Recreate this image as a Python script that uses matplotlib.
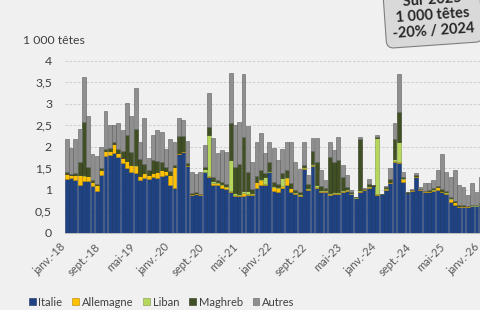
import matplotlib
matplotlib.use("Agg")
import matplotlib.pyplot as plt
import matplotlib.transforms as mtransforms
import numpy as np

# mois de janv.-18 a janv.-26, en 1 000 tetes
italie = [1.25, 1.27, 1.22, 1.10, 1.20, 1.20, 1.08, 0.97, 1.35, 1.78,
          1.80, 1.86, 1.75, 1.62, 1.50, 1.40, 1.38, 1.22, 1.27, 1.25,
          1.30, 1.28, 1.32, 1.35, 1.12, 1.05, 1.83, 1.88, 1.55, 0.88,
          0.90, 0.88, 1.40, 1.30, 1.12, 1.10, 1.05, 1.02, 0.95, 0.85,
          0.85, 0.85, 0.88, 0.88, 1.05, 1.10, 1.10, 1.40, 0.98, 0.95,
          1.05, 1.12, 0.95, 0.90, 0.86, 1.48, 1.00, 1.55, 1.05, 0.95,
          0.95, 0.88, 0.90, 0.90, 0.95, 0.98, 0.90, 0.80, 0.95, 1.00,
          1.05, 1.08, 0.88, 0.89, 1.00, 1.15, 1.65, 1.62, 1.18, 0.92,
          0.98, 1.30, 1.00, 0.95, 0.95, 0.98, 1.00, 0.95, 0.90, 0.72,
          0.65, 0.60, 0.60, 0.60, 0.62, 0.62, 0.64]
allemagne = [0.12, 0.07, 0.12, 0.25, 0.12, 0.12, 0.10, 0.13, 0.10, 0.12,
             0.10, 0.20, 0.10, 0.12, 0.17, 0.18, 0.17, 0.10, 0.12, 0.10,
             0.08, 0.12, 0.13, 0.08, 0.22, 0.48, 0.03, 0.03, 0.02, 0.02,
             0.02, 0.01, 0.02, 0.02, 0.03, 0.05, 0.06, 0.04, 0.02, 0.02,
             0.02, 0.08, 0.03, 0.02, 0.12, 0.12, 0.04, 0.02, 0.08, 0.08,
             0.03, 0.15, 0.08, 0.03, 0.02, 0.02, 0.02, 0.02, 0.02, 0.02,
             0.02, 0.02, 0.02, 0.02, 0.02, 0.02, 0.01, 0.01, 0.02, 0.01,
             0.02, 0.01, 0.02, 0.01, 0.02, 0.02, 0.02, 0.03, 0.08, 0.01,
             0.01, 0.02, 0.01, 0.01, 0.02, 0.02, 0.06, 0.02, 0.03, 0.07,
             0.06, 0.02, 0.02, 0.01, 0.01, 0.01, 0.01]
liban = [0.00, 0.00, 0.00, 0.00, 0.02, 0.00, 0.00, 0.00, 0.00, 0.00,
         0.00, 0.00, 0.00, 0.00, 0.00, 0.00, 0.02, 0.00, 0.00, 0.00,
         0.00, 0.02, 0.00, 0.00, 0.00, 0.00, 0.00, 0.00, 0.00, 0.00,
         0.00, 0.00, 0.05, 0.95, 0.05, 0.03, 0.02, 0.02, 0.72, 0.05,
         0.03, 0.05, 0.05, 0.02, 0.02, 0.03, 0.15, 0.02, 0.02, 0.03,
         0.20, 0.03, 0.02, 0.02, 0.02, 0.02, 0.02, 0.02, 0.03, 0.02,
         0.02, 0.02, 0.02, 0.03, 0.02, 0.02, 0.01, 0.01, 0.02, 0.00,
         0.02, 0.00, 1.30, 0.00, 0.02, 0.02, 0.05, 0.45, 0.02, 0.00,
         0.00, 0.00, 0.00, 0.00, 0.01, 0.01, 0.01, 0.01, 0.01, 0.01,
         0.01, 0.01, 0.01, 0.01, 0.01, 0.01, 0.01]
maghreb = [0.03, 0.02, 0.05, 0.30, 1.24, 0.20, 0.05, 0.03, 0.05, 0.05,
           0.08, 0.05, 0.10, 0.15, 0.60, 0.30, 0.85, 0.40, 0.20, 0.10,
           0.30, 0.25, 0.20, 0.10, 0.10, 0.05, 0.40, 0.35, 0.05, 0.02,
           0.02, 0.02, 0.05, 0.18, 0.10, 0.05, 0.05, 0.05, 0.85, 0.60,
           0.70, 1.25, 0.45, 0.10, 0.12, 0.20, 0.10, 0.20, 0.10, 0.08,
           0.10, 0.15, 0.10, 0.05, 0.05, 0.05, 0.10, 0.30, 0.55, 0.10,
           0.05, 0.85, 0.70, 0.75, 0.30, 0.05, 0.02, 0.01, 1.20, 0.01,
           0.05, 0.01, 0.02, 0.01, 0.03, 0.05, 0.45, 0.70, 0.02, 0.01,
           0.01, 0.02, 0.01, 0.02, 0.02, 0.02, 0.02, 0.03, 0.02, 0.02,
           0.02, 0.02, 0.02, 0.01, 0.01, 0.01, 0.02]
autres = [0.78, 0.62, 0.79, 0.77, 1.05, 1.20, 0.61, 0.65, 0.50, 0.88,
          0.52, 0.39, 0.59, 0.50, 0.75, 0.84, 0.94, 0.38, 1.07, 0.28,
          0.59, 0.72, 0.70, 0.42, 0.74, 0.54, 0.40, 0.37, 0.51, 0.49,
          0.43, 0.51, 0.52, 0.81, 0.90, 0.62, 0.75, 0.74, 1.17, 0.98,
          0.98, 1.46, 1.07, 0.62, 0.80, 0.87, 0.46, 0.47, 0.80, 0.56,
          0.57, 0.65, 0.97, 0.64, 0.53, 0.55, 0.21, 0.31, 0.55, 0.37,
          0.18, 0.35, 0.28, 0.53, 0.28, 0.27, 0.05, 0.01, 0.04, 0.01,
          0.12, 0.00, 0.05, 0.00, 0.02, 0.26, 0.37, 0.90, 0.12, 0.01,
          0.02, 0.04, 0.05, 0.17, 0.15, 0.19, 0.37, 0.83, 0.46, 0.48,
          0.72, 0.46, 0.42, 0.25, 0.50, 0.30, 0.62]

tick_pos = [0, 8, 16, 24, 32, 40, 48, 56, 64, 72, 80, 88, 96]
tick_labels = ["janv.-18", "sept.-18", "mai-19", "janv.-20", "sept.-20",
               "mai-21", "janv.-22", "sept.-22", "mai-23", "janv.-24",
               "sept.-24", "mai-25", "janv.-26"]
y_ticks = [0, 0.5, 1, 1.5, 2, 2.5, 3, 3.5, 4]

plt.rcParams['font.family'] = ['Lato', 'DejaVu Sans']

bg = '#f0f0f0'
fig = plt.figure(figsize=(4.81, 3.10), dpi=100, facecolor=bg)
ax = fig.add_axes([0.1341, 0.2494, 0.8659, 0.5548], facecolor=bg)

series = [
    ("Italie", italie, '#1f4283', '#16305f'),
    ("Allemagne", allemagne, '#ffc000', '#b38600'),
    ("Liban", liban, '#b5d65a', '#7f9a45'),
    ("Maghreb", maghreb, '#404f24', '#2a3416'),
    ("Autres", autres, '#8f8f8f', '#5f5f5f'),
]

x = np.arange(len(italie))
bottom = np.zeros(len(italie))
for name, vals, col, ec in series:
    vals = np.array(vals)
    ax.bar(x, vals, width=0.9, bottom=bottom, color=col, edgecolor=ec,
           linewidth=0.4, label=name, zorder=3)
    bottom += vals

ax.set_xlim(-0.5, 96.05)
ax.set_ylim(0, 4)
ax.set_yticks(y_ticks)
ax.set_yticklabels([f"{v:g}".replace(".", ",") for v in y_ticks])
ax.set_xticks(tick_pos)
ax.set_xticklabels(tick_labels, rotation=45, ha='right', va='center',
                   rotation_mode='anchor')
ax.tick_params(axis='x', length=0, pad=9, labelsize=8, labelcolor='#595959')
ax.tick_params(axis='y', length=0, pad=9, labelsize=8.8, labelcolor='#404040')
shift = mtransforms.ScaledTranslation(-2 / 72, 0, fig.dpi_scale_trans)
for lab in ax.get_xticklabels():
    lab.set_transform(lab.get_transform() + shift)
ax.grid(axis='y', color='#c8c8c8', linestyle=(0, (3, 2)), linewidth=0.6, zorder=0)
for s in ['top', 'right', 'left']:
    ax.spines[s].set_visible(False)
ax.spines['bottom'].set_color('#bfbfbf')

fig.text(23 / 481, 1 - 41 / 310, "1 000 têtes", fontsize=8.8, color='#404040',
         va='center', ha='left')

fig.text(0.9, 0.95, "Sur 2025\n1 000 têtes\n-20% / 2024", fontsize=10.5,
         fontweight='bold', color='#262626', ha='center', va='center',
         rotation=4, linespacing=1.12, multialignment='center',
         bbox=dict(boxstyle='round,pad=0.5', fc='#d9d9d9', ec='#7f7f7f', lw=0.8))

leg = fig.legend(loc='center left', bbox_to_anchor=(0.06, 0.025), ncol=5,
                 frameon=False, fontsize=8, handlelength=0.6, handleheight=0.6,
                 handletextpad=0.25, columnspacing=0.9, labelcolor='#404040',
                 borderaxespad=0, borderpad=0)

fig.savefig("out.png", dpi=100, facecolor=bg)
